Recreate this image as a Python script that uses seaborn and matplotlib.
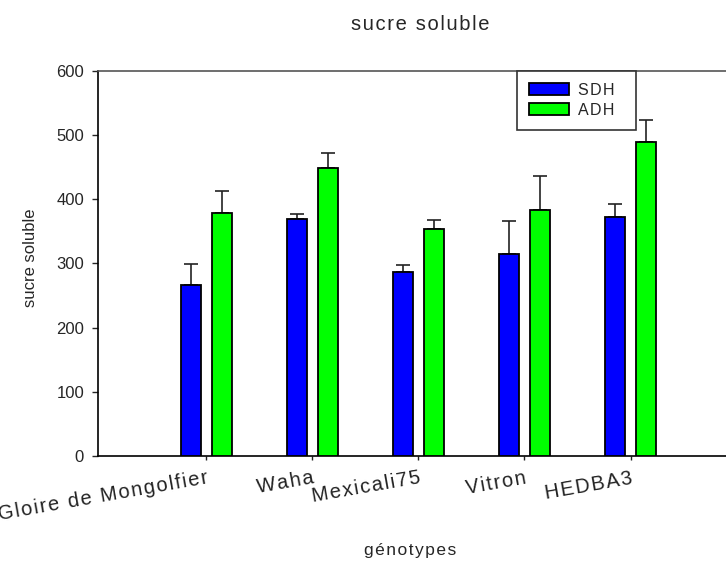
import pandas as pd
import numpy as np
import matplotlib
matplotlib.use("Agg")
import matplotlib.pyplot as plt
import seaborn as sns

# ------------ data ----------------------------------
genotypes = ["Gloire de Mongolfier", "Waha", "Mexicali75", "Vitron", "HEDBA3"]
sdh = [266, 369, 286, 314, 372]
sdh_err = [33, 8, 12, 52, 21]
adh = [379, 448, 354, 384, 490]
adh_err = [34, 24, 14, 52, 34]
treatments = ["SDH", "ADH"]
colors = {"SDH": "#0000ff", "ADH": "#00ff00"}


def spaced(s):
    # SigmaPlot-like letter spacing with hair spaces
    return "\u200a".join(s)


df = pd.DataFrame({
    "genotype": genotypes * 2,
    "treatment": ["SDH"] * 5 + ["ADH"] * 5,
    "value": sdh + adh,
})

sns.set_style("white")
plt.rcParams["font.family"] = ["Liberation Sans", "DejaVu Sans"]

fig = plt.figure(figsize=(7.26, 5.63), dpi=100)
ax = fig.add_axes([0.135, 0.19, 0.865, 0.684])

sns.barplot(data=df, x="genotype", y="value", hue="treatment",
            hue_order=treatments, order=genotypes, palette=colors,
            saturation=1, width=0.584, gap=0.356, edgecolor="black",
            linewidth=1.3, errorbar=None, ax=ax, zorder=3)

# ------------ upper error bars --------------
for cont, err in zip(ax.containers, [sdh_err, adh_err]):
    xs = [p.get_x() + p.get_width() / 2 for p in cont]
    ys = [p.get_height() for p in cont]
    ax.errorbar(xs, ys, yerr=[np.zeros(len(err)), err], fmt="none",
                ecolor="#222222", elinewidth=1.2, capsize=5, capthick=1.2,
                zorder=2)

ax.set_xlim(-1.02, 4.9)
ax.set_ylim(0, 600)
ax.set_yticks(range(0, 601, 100))
ax.tick_params(axis="y", direction="out", length=4, width=1,
               labelsize=12, pad=6, left=True)
ax.tick_params(axis="x", direction="out", length=3, width=1,
               labelsize=14.5, pad=6, bottom=True, colors="#222222")
ax.set_xticks(range(len(genotypes)))
ax.set_xticklabels([spaced(g) for g in genotypes], rotation=10,
                   ha="right", va="top", rotation_mode="anchor")

for s in ["left", "bottom"]:
    ax.spines[s].set_color("black")
    ax.spines[s].set_linewidth(1.2)
ax.spines["top"].set_color("#555555")
ax.spines["top"].set_linewidth(1.2)
ax.spines["right"].set_visible(False)

ax.set_xlabel("")
ax.set_ylabel("sucre soluble", fontsize=12,
              family=["Liberation Sans Narrow", "Liberation Sans", "DejaVu Sans"])
ax.yaxis.set_label_coords(-0.095, 0.515)

fig.text(420 / 726, 1 - 24 / 563, spaced("sucre soluble"), ha="center",
         va="center", fontsize=14.5)
fig.text(410 / 726, 1 - 551 / 563, spaced("génotypes"), ha="center",
         va="center", fontsize=12.5)

# ------------ legend --------------
handles, labels = ax.get_legend_handles_labels()
ax.get_legend().remove()
leg = ax.legend(handles, [spaced(l) + "  " for l in labels], loc="upper left",
                bbox_to_anchor=(0.667, 1.0), borderaxespad=0, fontsize=11.5,
                handlelength=2.5, handleheight=0.75, labelspacing=0.3,
                handletextpad=0.6, borderpad=0.75, fancybox=False,
                framealpha=1, edgecolor="#333333")
leg.get_frame().set_linewidth(1.2)
leg.set_zorder(5)

fig.savefig("out.png", dpi=100)
